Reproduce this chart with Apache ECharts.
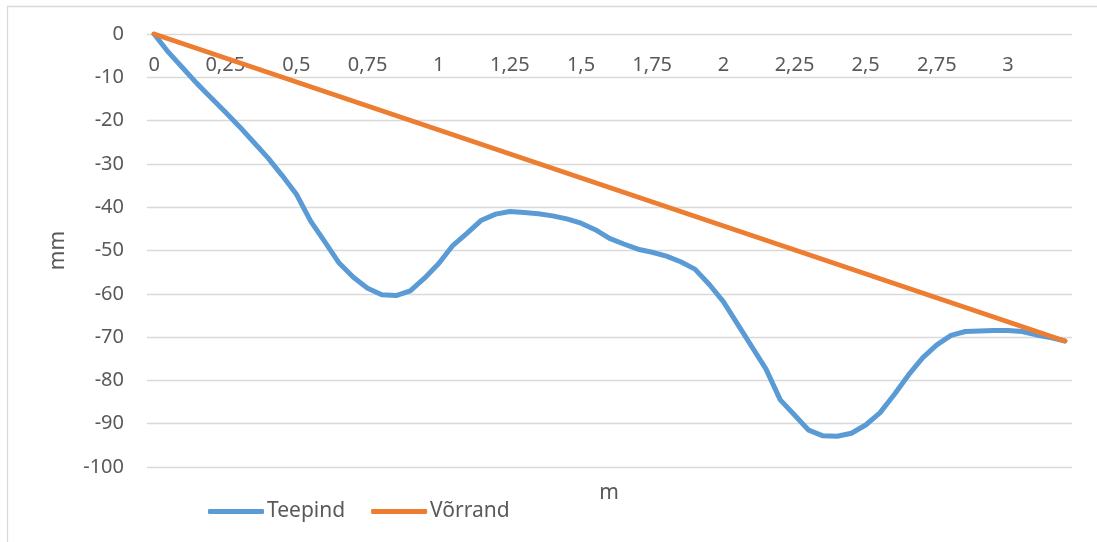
<!DOCTYPE html>
<html>
<head>
<meta charset="utf-8">
<script src="https://cdn.jsdelivr.net/npm/echarts@6/dist/echarts.min.js"></script>
<style>
  html, body { margin: 0; padding: 0; background: #ffffff; }
  #chart { width: 1097px; height: 542px; }
</style>
</head>
<body>
<div id="chart"></div>
<script>
// Distance along the section, m (one reading every 5 cm)
const distances = [
  0, 0.05, 0.1, 0.15, 0.2, 0.25, 0.3, 0.35, 0.4, 0.45,
  0.5, 0.55, 0.6, 0.65, 0.7, 0.75, 0.8, 0.85, 0.9, 0.95,
  1, 1.05, 1.1, 1.15, 1.2, 1.25, 1.3, 1.35, 1.4, 1.45,
  1.5, 1.55, 1.6, 1.65, 1.7, 1.75, 1.8, 1.85, 1.9, 1.95,
  2, 2.05, 2.1, 2.15, 2.2, 2.25, 2.3, 2.35, 2.4, 2.45,
  2.5, 2.55, 2.6, 2.65, 2.7, 2.75, 2.8, 2.85, 2.9, 2.95,
  3, 3.05, 3.1, 3.15, 3.2
];

// Road surface profile, mm
const teepind = [
  0, -4.2, -7.8, -11.4, -14.7, -18.0, -21.4, -25.0, -28.6, -32.7,
  -37.0, -43.2, -48.0, -52.9, -56.2, -58.7, -60.2, -60.4, -59.3, -56.4,
  -53.0, -48.8, -46.0, -43.0, -41.6, -41.0, -41.2, -41.5, -42.0, -42.7,
  -43.7, -45.2, -47.2, -48.5, -49.7, -50.4, -51.3, -52.6, -54.3, -57.8,
  -61.8, -67.0, -72.2, -77.4, -84.5, -88.0, -91.5, -92.8, -92.9, -92.2,
  -90.3, -87.5, -83.3, -78.8, -74.8, -71.8, -69.6, -68.7, -68.6, -68.5,
  -68.5, -68.7, -69.5, -70.1, -70.9
];

// Reference straight edge: only the two end readings, joined by a line
const vorrandStart = 0;
const vorrandEnd = -70.9;

// Value axis ticks, mm
const yMin = -100;
const yMax = 0;
const yStep = 10;

const vorrand = distances.map(function (d, i) {
  if (i === 0) return vorrandStart;
  if (i === distances.length - 1) return vorrandEnd;
  return null;
});

const textColor = '#595959';
const gridColor = '#d9d9d9';
const fontFamily = 'Noto Sans';
const lineWidth = 5;

const chart = echarts.init(document.getElementById('chart'), null, { renderer: 'canvas' });

chart.setOption({
  animation: false,
  backgroundColor: '#ffffff',
  textStyle: { fontFamily: fontFamily },
  grid: { left: 147, right: 25, top: 34, bottom: 75, containLabel: false },
  legend: {
    data: ['Teepind', 'Võrrand'],
    left: 203,
    top: 496,
    icon: 'roundRect',
    itemWidth: 56,
    itemHeight: 5,
    itemGap: 26,
    textStyle: { fontSize: 21, color: textColor, fontFamily: fontFamily, padding: [0, 0, 0, -2] }
  },
  xAxis: {
    type: 'category',
    data: distances,
    position: 'top',
    boundaryGap: true,
    axisLine: { show: false },
    axisTick: { show: false },
    splitLine: { show: false },
    axisLabel: {
      inside: true,
      interval: 4,
      margin: 21,
      fontSize: 20,
      color: textColor,
      fontFamily: fontFamily,
      formatter: function (v) { return String(v).replace('.', ','); }
    }
  },
  yAxis: {
    type: 'value',
    min: yMin,
    max: yMax,
    interval: yStep,
    name: 'mm',
    nameLocation: 'middle',
    nameGap: 78,
    nameTextStyle: { fontSize: 21, color: textColor, fontFamily: fontFamily },
    axisLine: { show: false },
    axisTick: { show: false },
    axisLabel: { fontSize: 20, color: textColor, margin: 23, fontFamily: fontFamily },
    splitLine: { lineStyle: { color: gridColor, width: 1.3 } }
  },
  graphic: [
    {
      type: 'rect',
      silent: true,
      shape: { x: 7.5, y: 6.5, width: 1200, height: 700 },
      style: { fill: 'none', stroke: gridColor, lineWidth: 1.3 }
    },
    {
      type: 'text',
      x: 609,
      y: 493,
      style: {
        text: 'm',
        fontSize: 21,
        fontFamily: fontFamily,
        fill: textColor,
        align: 'center',
        verticalAlign: 'middle'
      }
    }
  ],
  series: [
    {
      name: 'Teepind',
      type: 'line',
      data: teepind,
      symbol: 'none',
      lineStyle: { color: '#5b9bd5', width: lineWidth, cap: 'round', join: 'round' },
      itemStyle: { color: '#5b9bd5' }
    },
    {
      name: 'Võrrand',
      type: 'line',
      data: vorrand,
      connectNulls: true,
      symbol: 'none',
      lineStyle: { color: '#ed7d31', width: lineWidth, cap: 'round', join: 'round' },
      itemStyle: { color: '#ed7d31' }
    }
  ]
});
</script>
</body>
</html>
